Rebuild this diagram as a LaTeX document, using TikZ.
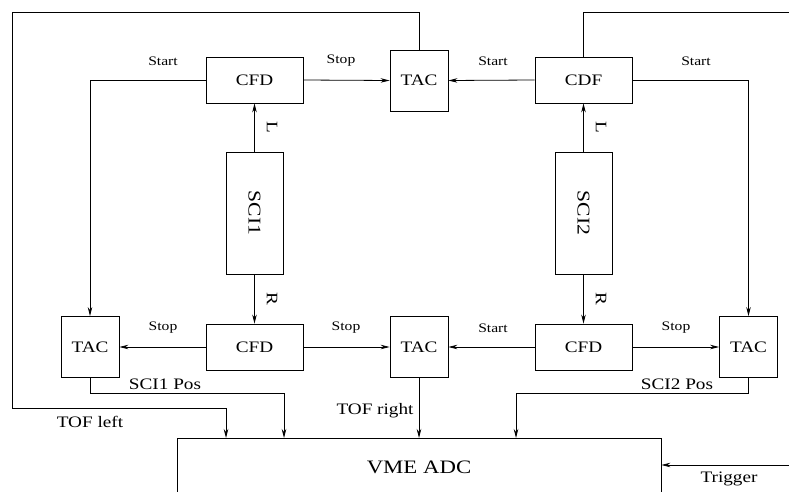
\documentclass[tikz,border=0pt]{standalone}
\usepackage{fontspec}
\setmainfont{Liberation Serif}[FakeStretch=1.2]
\usepackage{tikz}
\usetikzlibrary{arrows.meta}
\newcommand{\fsz}[1]{\fontsize{#1}{#1}\selectfont}

\begin{document}
\begin{tikzpicture}[x=1pt, y=-1pt,
          cfd/.style={rectangle, draw, line width=0.8pt, minimum width=97pt,
                      minimum height=46pt, inner sep=0pt, font=\fsz{16}},
          tac/.style={rectangle, draw, line width=0.8pt, minimum width=58pt,
                      minimum height=61pt, inner sep=0pt, font=\fsz{16}},
          sci/.style={rectangle, draw, line width=0.8pt, minimum width=57pt,
                      minimum height=122pt, inner sep=0pt, font=\fsz{18}},
          sig/.style={font=\fsz{13}},
          lbl/.style={font=\fsz{16}},
          wire/.style={line width=0.8pt},
          arr/.style={-{Stealth[length=9pt, width=4.5pt]}, line width=0.8pt}
        ]
        \useasboundingbox (0,0) rectangle (789,492);

        \node[cfd] (cfdtl) at (254.5, 80) {CFD};
        \node[tac] (tactop) at (419, 80.5) {TAC};
        \node[cfd] (cdftr) at (583.5, 80) {CDF};

        \node[sci] (sciA) at (254.5, 213) {\rotatebox{-90}{SCI1}};
        \node[sci] (sciB) at (583.5, 213) {\rotatebox{-90}{SCI2}};

        \node[tac] (tacl)  at (90, 347)    {TAC};
        \node[cfd] (cfdbl) at (254.5, 347) {CFD};
        \node[tac] (tacm)  at (419, 347)   {TAC};
        \node[cfd] (cfdbr) at (583.5, 347) {CFD};
        \node[tac] (tacr)  at (748.5, 347) {TAC};

        \node[draw, line width=0.8pt, anchor=north, minimum width=484pt,
              minimum height=90pt] (adc) at (419, 438) {};
        \node[font=\fsz{19}] (adctxt) at (419, 467) {VME ADC};

        \coordinate (topl) at (12, 12);
        \coordinate (botl) at (12, 408);
        \coordinate (topr) at (789, 12);
        \coordinate (trig) at (789, 465);

        \draw[arr] (cfdtl.east) -- (tactop.west);
        \draw[arr] (cdftr.west) -- (tactop.east);
        \draw[arr] (cfdtl.west) -| (tacl.north);
        \draw[arr] (cdftr.east) -| (tacr.north);

        \draw[arr] (sciA.north) -- (cfdtl.south);
        \draw[arr] (sciA.south) -- (cfdbl.north);
        \draw[arr] (sciB.north) -- (cdftr.south);
        \draw[arr] (sciB.south) -- (cfdbr.north);

        \draw[arr] (cfdbl.west) -- (tacl.east);
        \draw[arr] (cfdbl.east) -- (tacm.west);
        \draw[arr] (cfdbr.west) -- (tacm.east);
        \draw[arr] (cfdbr.east) -- (tacr.west);

        \draw[arr] (tactop.north) |- (topl) -- (botl) -| ([xshift=-193pt]adc.north);
        \draw[wire] (cdftr.north) |- (topr);
        \draw[arr] (tacl.south) -- ++(0, 15) -| ([xshift=-135pt]adc.north);
        \draw[arr] (tacm.south) -- (tacm.south |- adc.north);
        \draw[arr] (tacr.south) -- ++(0, 15) -| ([xshift=97pt]adc.north);
        \draw[arr] (trig) -- (trig -| adc.east);

        \node[sig] (l1) at (163, 61)  {Start};
        \node[sig] (l2) at (341, 61)  {Stop};
        \node[sig] (l3) at (493, 61)  {Start};
        \node[sig] (l4) at (696, 61)  {Start};
        \node[sig] (l5) at (163, 328) {Stop};
        \node[sig] (l6) at (346, 328) {Stop};
        \node[sig] (l7) at (493, 328) {Start};
        \node[sig] (l8) at (676, 328) {Stop};

        \node[lbl, rotate=-90] (la) at (272, 127) {L};
        \node[lbl, rotate=-90] (ra) at (272, 299) {R};
        \node[lbl, rotate=-90] (lb) at (601, 127) {L};
        \node[lbl, rotate=-90] (rb) at (601, 299) {R};

        \node[lbl] (pos1) at (165, 384) {SCI1 Pos};
        \node[lbl] (pos2) at (677, 384) {SCI2 Pos};
        \node[lbl] (tofl) at (90, 422)  {TOF left};
        \node[lbl] (tofr) at (375, 411) {TOF right};
        \node[lbl] (trg)  at (729, 479) {Trigger};
      \end{tikzpicture}
\end{document}
